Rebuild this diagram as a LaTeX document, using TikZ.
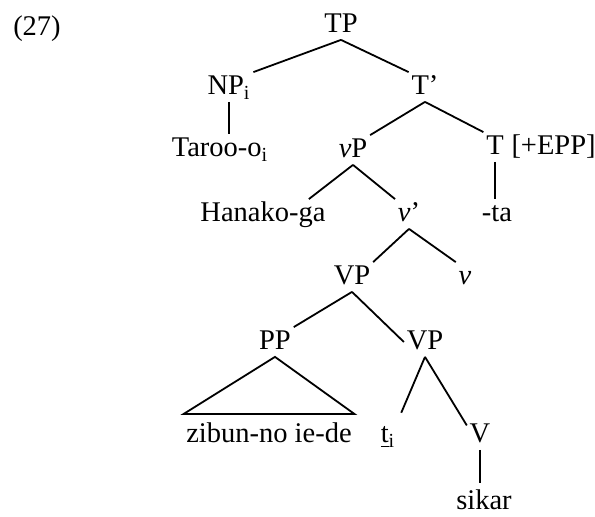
\documentclass[tikz,border=0pt]{standalone}
\usepackage{fontspec}
\setmainfont{Liberation Serif}
\usetikzlibrary{positioning}

\begin{document}
\begin{tikzpicture}[x=0.5pt, y=-0.5pt, line width=0.9pt,
    cat/.style={anchor=base, inner sep=1pt, text height=10pt, text depth=2pt,
                font=\fontsize{14.25pt}{17pt}\selectfont}]
\useasboundingbox (0,0) rectangle (595,517);

% example number
\node[cat] (ex) at (37,36) {(27)};

% labels of the tree
\node[cat] (TP)     at (341,33)  {TP};
\node[cat] (NP)     at (229,95)  {NP\textsubscript{i}};
\node[cat] (Tbar)   at (425,95)  {T’};
\node[cat] (Taroo)  at (220,157) {Taroo-o\textsubscript{i}};
\node[cat] (vP)     at (353,158) {\textit{v}P};
\node[cat] (T)      at (495,155) {T};
\node[cat, right=1pt of T] (epp) {[+EPP]};
\node[cat] (Hanako) at (263,222) {Hanako-ga};
\node[cat] (vbar)   at (409,222) {\textit{v}’};
\node[cat] (ta)     at (497,222) {-ta};
\node[cat] (VPa)    at (352,285) {VP};
\node[cat] (vhead)  at (465,285) {\textit{v}};
\node[cat] (PP)     at (275,350) {PP};
\node[cat] (VPb)    at (425,350) {VP};
\node[cat] (zibun)  at (269,443) {zibun-no ie-de};
\node[cat] (trace)  at (388,443) {\underline{t}\textsubscript{i}};
\node[cat] (V)      at (480,443) {V};
\node[cat] (sikar)  at (484,510) {sikar};

% branches
\draw (TP.south) -- (NP.north east);
\draw (TP.south) -- (Tbar.north west);
\draw (NP.south) -- (NP.south |- Taroo.north);
\draw (Tbar.south) -- (vP.north east);
\draw (Tbar.south) -- (T.north west);
\draw (T.south) -- (T.south |- ta.north);
\draw (vP.south) -- (Hanako.18);
\draw (vP.south) -- (vbar.north west);
\draw (vbar.south) -- (VPa.north east);
\draw (vbar.south) -- (vhead.north west);
\draw (VPa.south) -- (PP.north east);
\draw (VPa.south) -- (VPb.west);
\draw (PP.south) -- ([yshift=3pt]zibun.north west) -- ([yshift=3pt]zibun.north east) -- cycle;
\draw[shorten >=4pt] (VPb.south) -- (trace.north east);
\draw (VPb.south) -- (V.144);
\draw[shorten >=2pt] (V.south) -- (V.south |- sikar.north);
\end{tikzpicture}
\end{document}
